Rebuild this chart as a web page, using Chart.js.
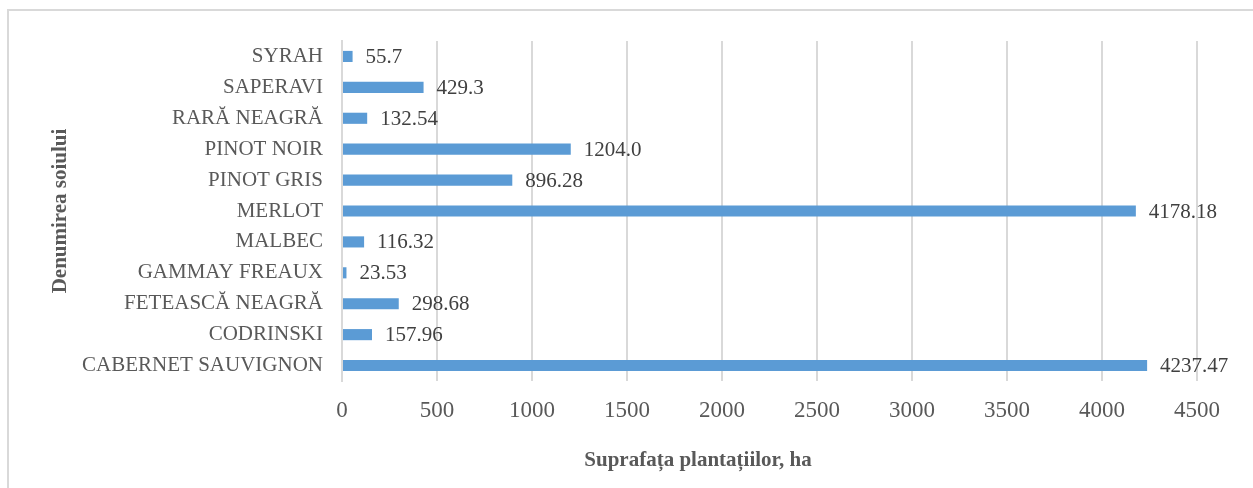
<!DOCTYPE html>
<html lang="ro">
<head>
    <meta charset="UTF-8">
    <title>Suprafața plantațiilor</title>
    <script src="https://cdn.jsdelivr.net/npm/chart.js"></script>
    <style>
        body { margin: 0; background: #fff; }
        #wrap { position: absolute; left: 0; top: 0; width: 1253px; height: 488px; }
        #frame { position: absolute; left: 7px; top: 9px; width: 1300px; height: 600px;
                 border: 2px solid #d9d9d9; pointer-events: none; }
        canvas { position: absolute; left: 0; top: 0; }
    </style>
</head>
<body>
<div id="wrap">
    <div id="frame"></div>
    <canvas id="chart" width="1253" height="488"></canvas>
</div>

<script>
// date: soiuri (de sus in jos) si suprafata, ha
const soiuri = ['SYRAH', 'SAPERAVI', 'RARĂ NEAGRĂ', 'PINOT NOIR', 'PINOT GRIS', 'MERLOT',
                'MALBEC', 'GAMMAY FREAUX', 'FETEASCĂ NEAGRĂ', 'CODRINSKI', 'CABERNET SAUVIGNON'];
const suprafata = [55.7, 429.3, 132.54, 1204.0, 896.28, 4178.18, 116.32, 23.53, 298.68, 157.96, 4237.47];
const xTicks = [0, 500, 1000, 1500, 2000, 2500, 3000, 3500, 4000, 4500];

const titluX = 'Suprafața plantațiilor, ha';
const titluY = 'Denumirea soiului';

const fontFam = '"Liberation Serif", "Times New Roman", serif';
const grey = '#595959';

function fmt(v) {
    return Number.isInteger(v) ? v.toFixed(1) : String(v);
}

// etichete cu valori la capatul barelor + titlul axei X
const labelsPlugin = {
    id: 'labels',
    afterDatasetsDraw(chart) {
        const ctx = chart.ctx;
        const meta = chart.getDatasetMeta(0);
        ctx.save();
        ctx.font = '21px ' + fontFam;
        ctx.fillStyle = '#404040';
        ctx.textAlign = 'left';
        ctx.textBaseline = 'middle';
        meta.data.forEach((bar, i) => {
            ctx.fillText(fmt(suprafata[i]), bar.x + 13, bar.y + 1);
        });
        ctx.font = 'bold 21px ' + fontFam;
        ctx.fillStyle = grey;
        ctx.textAlign = 'center';
        ctx.fillText(titluX, 698, 461);
        ctx.restore();
    }
};

new Chart(document.getElementById('chart'), {
    type: 'bar',
    data: {
        labels: soiuri,
        datasets: [{
            data: suprafata,
            backgroundColor: '#5b9bd5',
            categoryPercentage: 1,
            barPercentage: 0.36
        }]
    },
    options: {
        indexAxis: 'y',
        responsive: false,
        animation: false,
        layout: { padding: { top: 41, right: 56, bottom: 0, left: 0 } },
        plugins: { legend: { display: false }, tooltip: { enabled: false } },
        scales: {
            x: {
                min: 0,
                max: 4500,
                afterBuildTicks: (s) => { s.ticks = xTicks.map(v => ({ value: v })); },
                afterFit: (s) => { s.height = 107; },
                grid: { color: '#d9d9d9', lineWidth: 2, drawTicks: false },
                border: { display: false },
                ticks: {
                    color: grey,
                    padding: 16,
                    font: { family: fontFam, size: 23 },
                    callback: (v) => String(v)
                }
            },
            y: {
                afterFit: (s) => { s.width = 342; },
                grid: { display: false, drawTicks: false },
                border: { display: true, color: '#d9d9d9', width: 2 },
                ticks: { color: grey, padding: 19, font: { family: fontFam, size: 21 } },
                title: {
                    display: true,
                    text: titluY,
                    color: grey,
                    padding: { top: 48, bottom: 0 },
                    font: { family: fontFam, size: 21, weight: 'bold' }
                }
            }
        }
    },
    plugins: [labelsPlugin]
});
</script>
</body>
</html>
